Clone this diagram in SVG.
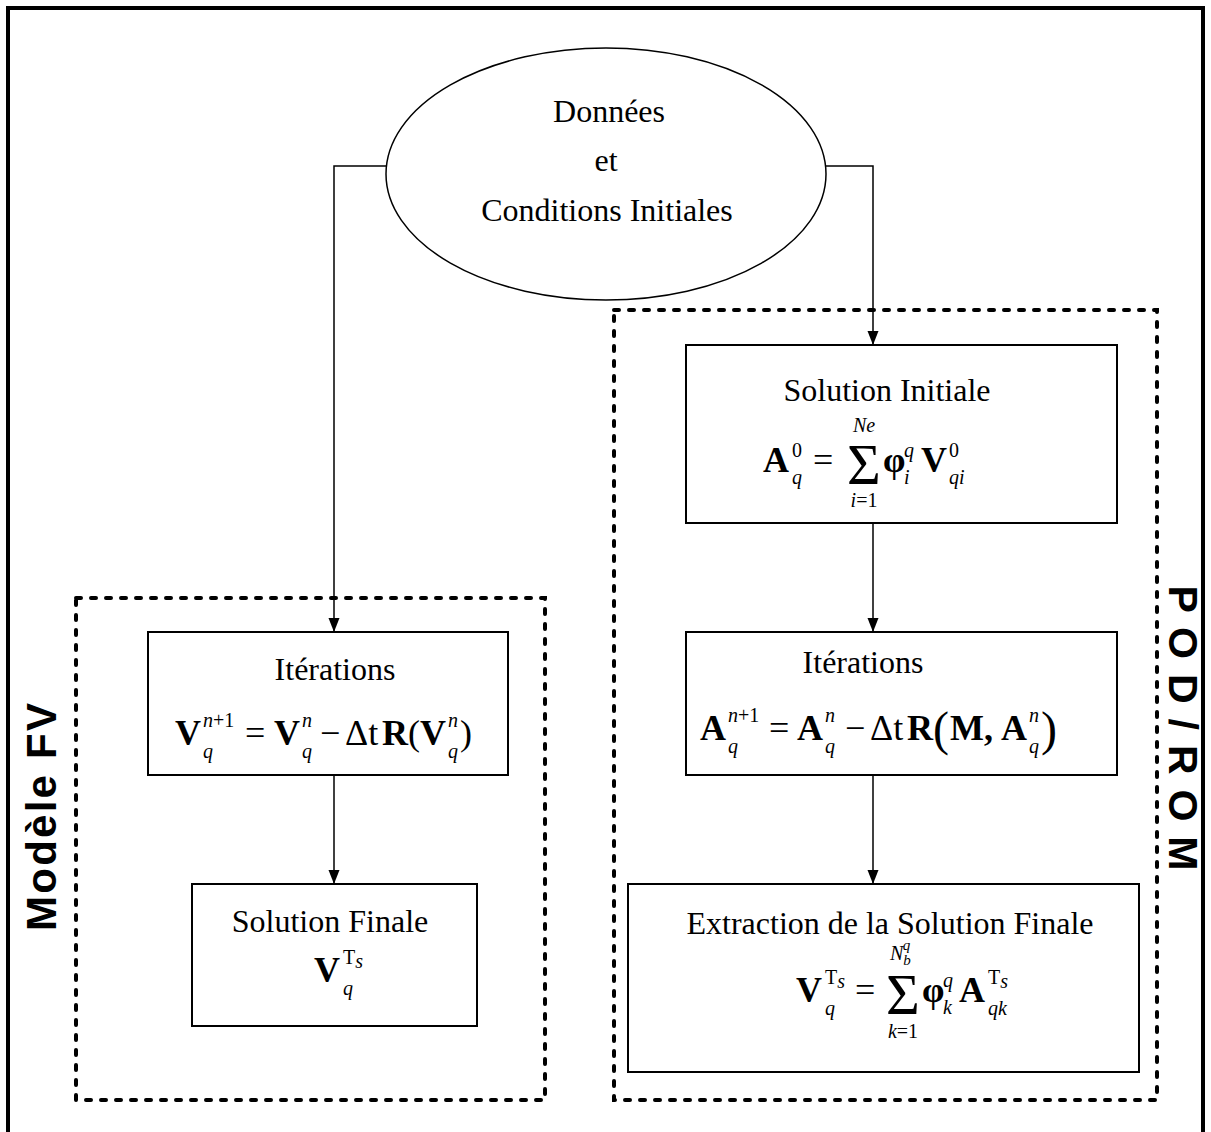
<svg xmlns="http://www.w3.org/2000/svg" width="1211" height="1132" viewBox="0 0 1211 1132">
<defs>
<marker id="arr" viewBox="0 0 14 12" refX="14" refY="6" markerWidth="14" markerHeight="12" markerUnits="userSpaceOnUse" orient="auto">
<path d="M0,0.5 L14,6 L0,11.5 Z" fill="#000"/>
</marker>
<style>
.box{fill:#fff;stroke:#000;stroke-width:2}
.dash{fill:none;stroke:#000;stroke-width:4;stroke-dasharray:5 10;stroke-linecap:round}
.con{fill:none;stroke:#000;stroke-width:1.5}
.t{font-family:"Liberation Serif","Times New Roman",serif;font-size:32px;fill:#000}
.b{font-family:"Liberation Serif","Times New Roman",serif;font-size:36px;font-weight:bold;fill:#000}
.m{font-family:"Liberation Serif","Times New Roman",serif;font-size:36px;fill:#000}
.s{font-family:"Liberation Serif","Times New Roman",serif;font-size:20px;font-style:italic;fill:#000}
.sr{font-family:"Liberation Serif","Times New Roman",serif;font-size:20px;fill:#000}
.sig{font-family:"Liberation Serif","Times New Roman",serif;font-size:58px;fill:#000}
.lab{font-family:"Liberation Sans",Arial,sans-serif;font-size:42px;font-weight:bold;fill:#000}
</style>
</defs>
<rect width="1211" height="1132" fill="#fff"/>
<path d="M8,1140 L8,8 L1203,8 L1203,1140" fill="none" stroke="#000" stroke-width="4"/>

<g id="group-fv">
<rect class="dash" x="76" y="598" width="469" height="502"/>
<text class="lab" transform="translate(56,817) rotate(-90)" text-anchor="middle" textLength="228" lengthAdjust="spacing">Modèle FV</text>
</g>
<g id="group-pod">
<rect class="dash" x="614" y="310" width="543" height="790"/>
<text class="lab" transform="translate(1169,728) rotate(90)" text-anchor="middle" textLength="285" lengthAdjust="spacing" style="font-size:41px">P O D / R O M</text>
</g>

<g id="connectors">
<path class="con" d="M386,166 L334,166 L334,632" marker-end="url(#arr)"/>
<path class="con" d="M826,166 L873,166 L873,345" marker-end="url(#arr)"/>
<path class="con" d="M873,523 L873,632" marker-end="url(#arr)"/>
<path class="con" d="M873,775 L873,884" marker-end="url(#arr)"/>
<path class="con" d="M334,775 L334,884" marker-end="url(#arr)"/>
</g>

<g id="node-donnees">
<ellipse class="box" cx="606" cy="174" rx="220" ry="126" style="stroke-width:1.5"/>
<text class="t" x="609" y="122" text-anchor="middle">Données</text>
<text class="t" x="606" y="171" text-anchor="middle">et</text>
<text class="t" x="607" y="221" text-anchor="middle">Conditions Initiales</text>
</g>

<g id="node-sol-init">
<rect class="box" x="686" y="345" width="431" height="178"/>
<text class="t" x="887" y="401" text-anchor="middle">Solution Initiale</text>
<text class="b" x="763" y="472">A</text>
<text class="sr" x="792" y="457">0</text>
<text class="s" x="792" y="484">q</text>
<text class="m" x="813" y="472">=</text>
<text class="sig" x="847" y="484">Σ</text>
<text class="s" x="864" y="432" text-anchor="middle">Ne</text>
<text class="s" x="864" y="507" text-anchor="middle">i<tspan class="sr" font-style="normal">=1</tspan></text>
<text class="b" x="883" y="472">φ</text>
<text class="s" x="904" y="457">q</text>
<text class="s" x="904" y="484">i</text>
<text class="b" x="921" y="472">V</text>
<text class="sr" x="949" y="457">0</text>
<text class="s" x="949" y="484">qi</text>
</g>

<g id="node-iter-pod">
<rect class="box" x="686" y="632" width="431" height="143"/>
<text class="t" x="863" y="673" text-anchor="middle">Itérations</text>
<text class="b" x="700" y="740">A</text>
<text class="s" x="728" y="722">n<tspan class="sr" font-style="normal">+1</tspan></text>
<text class="s" x="728" y="753">q</text>
<text class="m" x="769" y="740">=</text>
<text class="b" x="797" y="740">A</text>
<text class="s" x="825" y="722">n</text>
<text class="s" x="825" y="753">q</text>
<text class="m" x="845" y="740">−</text>
<text class="m" x="870" y="740">Δt</text>
<text class="b" x="907" y="740">R</text>
<text class="m" x="933" y="745" style="font-size:48px">(</text>
<text class="b" x="950" y="740">M,</text>
<text class="b" x="1001" y="740">A</text>
<text class="s" x="1029" y="722">n</text>
<text class="s" x="1029" y="753">q</text>
<text class="m" x="1041" y="745" style="font-size:48px">)</text>
</g>

<g id="node-extraction">
<rect class="box" x="628" y="884" width="511" height="188"/>
<text class="t" x="890" y="934" text-anchor="middle">Extraction de la Solution Finale</text>
<text class="b" x="796" y="1002">V</text>
<text class="sr" x="825" y="984">T<tspan class="s" font-size="14" dy="4">s</tspan></text>
<text class="s" x="825" y="1015">q</text>
<text class="m" x="855" y="1002">=</text>
<text class="sig" x="886" y="1014">Σ</text>
<text class="s" x="890" y="960">N<tspan font-size="15" dy="5">b</tspan><tspan font-size="15" dx="-8" dy="-15">q</tspan></text>
<text class="s" x="903" y="1038" text-anchor="middle">k<tspan class="sr" font-style="normal">=1</tspan></text>
<text class="b" x="922" y="1002">φ</text>
<text class="s" x="943" y="987">q</text>
<text class="s" x="943" y="1014">k</text>
<text class="b" x="959" y="1002">A</text>
<text class="sr" x="988" y="984">T<tspan class="s" font-size="14" dy="4">s</tspan></text>
<text class="s" x="988" y="1015">qk</text>
</g>

<g id="node-iter-fv">
<rect class="box" x="148" y="632" width="360" height="143"/>
<text class="t" x="335" y="680" text-anchor="middle">Itérations</text>
<text class="b" x="175" y="745">V</text>
<text class="s" x="203" y="727">n<tspan class="sr" font-style="normal">+1</tspan></text>
<text class="s" x="203" y="758">q</text>
<text class="m" x="245" y="745">=</text>
<text class="b" x="274" y="745">V</text>
<text class="s" x="302" y="727">n</text>
<text class="s" x="302" y="758">q</text>
<text class="m" x="320" y="745">−</text>
<text class="m" x="345" y="745">Δt</text>
<text class="b" x="382" y="745">R</text>
<text class="m" x="408" y="745">(</text>
<text class="b" x="420" y="745">V</text>
<text class="s" x="448" y="727">n</text>
<text class="s" x="448" y="758">q</text>
<text class="m" x="460" y="745">)</text>
</g>

<g id="node-sol-finale">
<rect class="box" x="192" y="884" width="285" height="142"/>
<text class="t" x="330" y="932" text-anchor="middle">Solution Finale</text>
<text class="b" x="314" y="982">V</text>
<text class="sr" x="343" y="964">T<tspan class="s" font-size="14" dy="4">s</tspan></text>
<text class="s" x="343" y="995">q</text>
</g>
</svg>
